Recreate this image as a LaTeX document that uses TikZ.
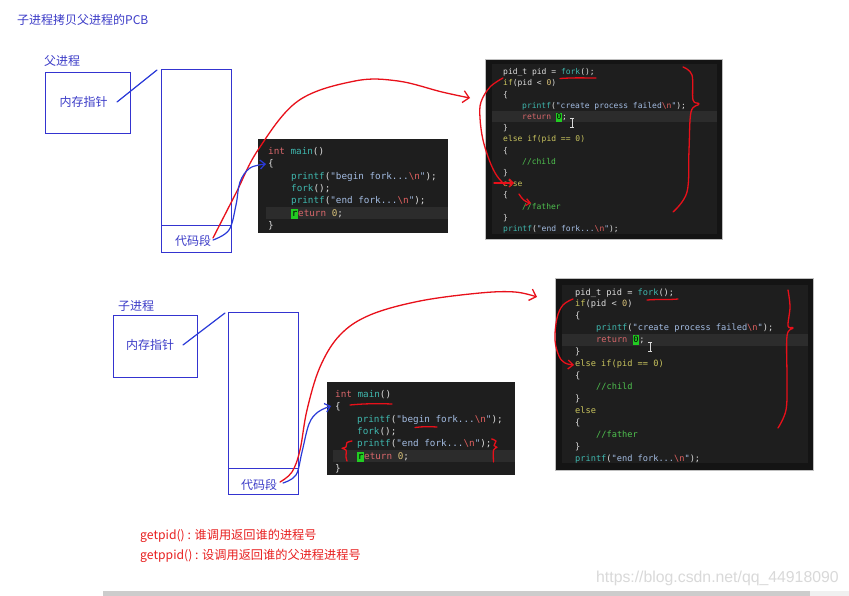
\documentclass[tikz,border=0pt]{standalone}
\usepackage{fontspec}
\setmainfont{Noto Sans CJK SC}
\newfontfamily\codefont{DejaVu Sans Mono}
\newfontfamily\wmfont{Liberation Sans}
\usetikzlibrary{arrows.meta}
\definecolor{labelblue}{HTML}{3C3CC8}
\definecolor{boxblue}{HTML}{3434D0}
\definecolor{penblue}{HTML}{2A3AD8}
\definecolor{penred}{HTML}{E8101A}
\definecolor{textred}{HTML}{E82020}
\definecolor{ckw}{HTML}{D8676B}
\definecolor{cfn}{HTML}{3FB7AE}
\definecolor{cstr}{HTML}{A3BCE2}
\definecolor{cesc}{HTML}{E0605F}
\definecolor{cnum}{HTML}{D9C27A}
\definecolor{cctl}{HTML}{C9C45E}
\definecolor{ccom}{HTML}{4FC14F}
\definecolor{ctxt}{HTML}{DCDCDC}
\definecolor{cbg}{HTML}{1E1E1E}
\definecolor{cline}{HTML}{2C2C2C}
\definecolor{ccur}{HTML}{22CC22}
\newcommand\cKw[1]{\textcolor{ckw}{#1}}
\newcommand\cFn[1]{\textcolor{cfn}{#1}}
\newcommand\cSt[1]{\textcolor{cstr}{#1}}
\newcommand\cEs{\textcolor{cesc}{\textbackslash n}}
\newcommand\cNm[1]{\textcolor{cnum}{#1}}
\newcommand\cCt[1]{\textcolor{cctl}{#1}}
\newcommand\cCm[1]{\textcolor{ccom}{#1}}
\newcommand\cCur[1]{{\setlength{\fboxsep}{0.7pt}\colorbox{ccur}{\textcolor{black}{\vphantom{Xg}#1}}}}
\begin{document}
\begin{tikzpicture}[x=1pt,y=-1pt,
  lbl/.style={font=\fontsize{12}{14}\selectfont, text=labelblue, inner sep=0},
  pbox/.style={draw=boxblue, line width=1.4pt, anchor=north west, inner sep=0},
  cbA/.style={font=\fontsize{9.3}{11}\codefont, text=ctxt, inner sep=0, anchor=base west},
  cbB/.style={font=\fontsize{8}{10}\codefont, text=ctxt, inner sep=0, anchor=base west},
  cbC/.style={font=\fontsize{8.65}{10}\codefont, text=ctxt, inner sep=0, anchor=base west},
  codebg/.style={fill=cbg, anchor=north west, inner sep=0},
  frame/.style={fill=black!92, draw=black!25, line width=0.6pt, anchor=north west, inner sep=0},
  redpen/.style={draw=penred, line width=1.3pt, line cap=round, line join=round},
  bluepen/.style={draw=penblue, line width=1.2pt, line cap=round, line join=round},
  redarrow/.style={-{Straight Barb[length=6pt,width=12pt,line width=1.3pt]}},
  bluearrow/.style={-{Straight Barb[length=5pt,width=9pt,line width=1.2pt]}},
  ibeam/.style={draw=black!15, line width=0.8pt}
]
\useasboundingbox (0,0) rectangle (849,596);
\fill[white] (0,0) rectangle (849,596);

% title
\node[lbl, anchor=west] (title) at (17,20) {子进程拷贝父进程的PCB};

% ===== parent =====
\node[lbl, anchor=west] (plabel) at (44,61) {父进程};
\node[pbox, minimum width=85pt, minimum height=61pt] (pptr) at (45,72) {};
\node[lbl] (pptrtxt) at (83.5,102) {内存指针};
\node[pbox, minimum width=70pt, minimum height=183pt] (pmem) at (161,69) {};
\node[pbox, minimum width=70pt, minimum height=27pt] (pseg) at (161,225) {};
\node[lbl] (psegtxt) at (193,241) {代码段};
\coordinate (pl1) at (117,102);
\coordinate (pl2) at (157,70);
\draw[bluepen] (pl1) -- (pl2);

% code block 1
\node[codebg, minimum width=190pt, minimum height=94pt] (code1) at (258,139) {};
\fill[cline] (266,207) rectangle (448,219);
\node[cbA] (a1) at (268,154.3) {\cKw{int} \cFn{main}()};
\node[cbA] (a2) at (268,166.3) {\{};
\node[cbA] (a3) at (291,179.3) {\cFn{printf}(\cSt{"begin fork...}\cEs\cSt{"});};
\node[cbA] (a4) at (291,191.3) {\cFn{fork}();};
\node[cbA] (a5) at (291,203.3) {\cFn{printf}(\cSt{"end fork...}\cEs\cSt{"});};
\node[cbA] (a6) at (291,216.3) {\cCur{r}\cKw{eturn} \cNm{0};};
\node[cbA] (a7) at (268,228.3) {\}};

% code block 2
\node[frame, minimum width=237pt, minimum height=180pt] (code2) at (485,59) {};
\node[codebg, minimum width=225pt, minimum height=170pt] (code2in) at (492,64) {};
\fill[cline] (492,111) rectangle (717,122.5);
\node[cbB] (b1) at (503,74.8) {pid\_t pid = \cFn{fork}();};
\node[cbB] (b2) at (503,86) {\cCt{if}(pid < \cNm{0})};
\node[cbB] (b3) at (503,97.2) {\{};
\node[cbB] (b4) at (522,108.4) {\cFn{printf}(\cSt{"create process failed}\cEs\cSt{"});};
\node[cbB] (b5) at (522,119.6) {\cKw{return} \cCur{0};};
\node[cbB] (b6) at (503,130.8) {\}};
\node[cbB] (b7) at (503,142) {\cCt{else if(pid == 0)}};
\node[cbB] (b8) at (503,153.2) {\{};
\node[cbB] (b9) at (522,164.4) {\cCm{//child}};
\node[cbB] (b10) at (503,175.6) {\}};
\node[cbB] (b11) at (503,186.8) {\cCt{else}};
\node[cbB] (b12) at (503,198) {\{};
\node[cbB] (b13) at (522,209.2) {\cCm{//father}};
\node[cbB] (b14) at (503,220.4) {\}};
\node[cbB] (b15) at (503,231.6) {\cFn{printf}(\cSt{"end fork...}\cEs\cSt{"});};
\draw[ibeam] (572,118) -- (572,127) (570,118) -- (574,118) (570,127) -- (574,127);

% ===== child =====
\node[lbl, anchor=west] (clabel) at (118,306) {子进程};
\node[pbox, minimum width=84pt, minimum height=62pt] (cptr) at (113,315) {};
\node[lbl] (cptrtxt) at (150,345) {内存指针};
\node[pbox, minimum width=70pt, minimum height=182pt] (cmem) at (228,312) {};
\node[pbox, minimum width=70pt, minimum height=26pt] (cseg) at (228,468) {};
\node[lbl] (csegtxt) at (259,485) {代码段};
\coordinate (cl1) at (183,345);
\coordinate (cl2) at (225,313);
\draw[bluepen] (cl1) -- (cl2);

% code block 3
\node[codebg, minimum width=188pt, minimum height=93pt] (code3) at (327,382) {};
\fill[cline] (333,450) rectangle (515,462);
\node[cbA] (d1) at (335,397.3) {\cKw{int} \cFn{main}()};
\node[cbA] (d2) at (335,409.3) {\{};
\node[cbA] (d3) at (357,422.3) {\cFn{printf}(\cSt{"begin fork...}\cEs\cSt{"});};
\node[cbA] (d4) at (357,434.3) {\cFn{fork}();};
\node[cbA] (d5) at (357,446.3) {\cFn{printf}(\cSt{"end fork...}\cEs\cSt{"});};
\node[cbA] (d6) at (357,459.3) {\cCur{r}\cKw{eturn} \cNm{0};};
\node[cbA] (d7) at (335,471.3) {\}};

% code block 4
\node[frame, minimum width=258pt, minimum height=192pt] (code4) at (555,278) {};
\node[codebg, minimum width=246pt, minimum height=178pt] (code4in) at (562,285) {};
\fill[cline] (562,333.5) rectangle (808,345.5);
\node[cbC] (e1) at (575,295) {pid\_t pid = \cFn{fork}();};
\node[cbC] (e2) at (575,306.9) {\cCt{if}(pid < \cNm{0})};
\node[cbC] (e3) at (575,318.7) {\{};
\node[cbC] (e4) at (596,330.6) {\cFn{printf}(\cSt{"create process failed}\cEs\cSt{"});};
\node[cbC] (e5) at (596,342.4) {\cKw{return} \cCur{0};};
\node[cbC] (e6) at (575,354.3) {\}};
\node[cbC] (e7) at (575,366.2) {\cCt{else if(pid == 0)}};
\node[cbC] (e8) at (575,378) {\{};
\node[cbC] (e9) at (596,389.9) {\cCm{//child}};
\node[cbC] (e10) at (575,401.7) {\}};
\node[cbC] (e11) at (575,413.6) {\cCt{else}};
\node[cbC] (e12) at (575,425.5) {\{};
\node[cbC] (e13) at (596,437.3) {\cCm{//father}};
\node[cbC] (e14) at (575,449.2) {\}};
\node[cbC] (e15) at (575,461) {\cFn{printf}(\cSt{"end fork...}\cEs\cSt{"});};
\draw[ibeam] (650,342) -- (650,351) (648,342) -- (652,342) (648,351) -- (652,351);

% ===== connectors =====
\coordinate (rs1) at (213,238);
\coordinate (ra1) at (470,98);
\draw[redpen, redarrow] plot[smooth, tension=0.6] coordinates {(rs1) (236,193) (258,150) (298,101) (355,81) (398,81) (442,92) (ra1)};
\coordinate (bs1) at (213,240);
\coordinate (ba1) at (266,164);
\draw[bluepen, bluearrow] plot[smooth, tension=0.6] coordinates {(bs1) (229,230) (236,205) (240,182) (250,168) (ba1)};

\coordinate (rs2) at (280,482);
\coordinate (ra2) at (537,297);
\draw[redpen, redarrow] plot[smooth, tension=0.6] coordinates {(rs2) (292,472) (300,450) (307,410) (320,367) (340,335) (370,315) (420,301) (480,293) (515,292) (ra2)};
\coordinate (bs2) at (283,483);
\coordinate (ba2) at (331,406);
\draw[bluepen, bluearrow] plot[smooth, tension=0.6] coordinates {(bs2) (296,475) (302,452) (309,424) (318,412) (ba2)};

% ===== red annotations, block 2 =====
\draw[redpen] (560,78.5) .. controls (575,77.5) and (585,78) .. (596,78);
\draw[redpen] plot[smooth, tension=0.6] coordinates {(683,67) (692,75) (693,100) (699,104) (691,112) (689,150) (687,192) (673,212)};
\draw[redpen] plot[smooth, tension=0.6] coordinates {(503,78) (490,87) (481,102) (480,118) (483,140) (490,162) (497,176) (505,185)};
\draw[redpen, -{Straight Barb[length=4pt,width=8pt,line width=1.3pt]}] (494,183) -- (514,183);
\draw[redpen, -{Straight Barb[length=4pt,width=7pt,line width=1.3pt]}] (519,194) .. controls (522,199) and (525,202) .. (531,203);

% ===== red annotations, block 4 =====
\draw[redpen] (647,300) .. controls (660,299) and (668,300) .. (678,299);
\draw[redpen] plot[smooth, tension=0.6] coordinates {(788,290) (790,307) (788,326) (793,328) (787,336) (787,380) (786,410) (778,428)};
\draw[redpen, -{Straight Barb[length=5pt,width=9pt,line width=1.3pt]}] plot[smooth, tension=0.6] coordinates {(573,299) (563,305) (557,318) (555,340) (559,356) (565,363) (574,365)};

% ===== red annotations, block 3 =====
\draw[redpen] (350,405) .. controls (365,403.5) and (378,403.5) .. (392,404);
\draw[redpen] (415,427.5) .. controls (422,426.5) and (430,426.5) .. (437,427);
\draw[redpen] plot[smooth, tension=0.5] coordinates {(352,441) (347,442.5) (346,447) (342,448.3) (346,450) (346,457) (347,461)};
\draw[redpen] plot[smooth, tension=0.5] coordinates {(491.7,439) (496,441) (494,445.5) (497,447.3) (493.5,450) (493.5,462)};

% ===== bottom texts =====
\node[anchor=west, inner sep=0, text=textred, font=\fontsize{12.2}{14}\selectfont] (t1) at (140,536) {getpid() : 谁调用返回谁的进程号};
\node[anchor=west, inner sep=0, text=textred, font=\fontsize{12.2}{14}\selectfont] (t2) at (140,556) {getppid() : 设调用返回谁的父进程进程号};

\node[anchor=west, inner sep=0, text=black!15, font=\fontsize{15.8}{18}\wmfont] (wm) at (596,578) {https://blog.csdn.net/qq\_44918090};

\fill[black!20] (103,591) rectangle (810,596);
\fill[black!6] (810,591) rectangle (849,596);
\end{tikzpicture}
\end{document}
